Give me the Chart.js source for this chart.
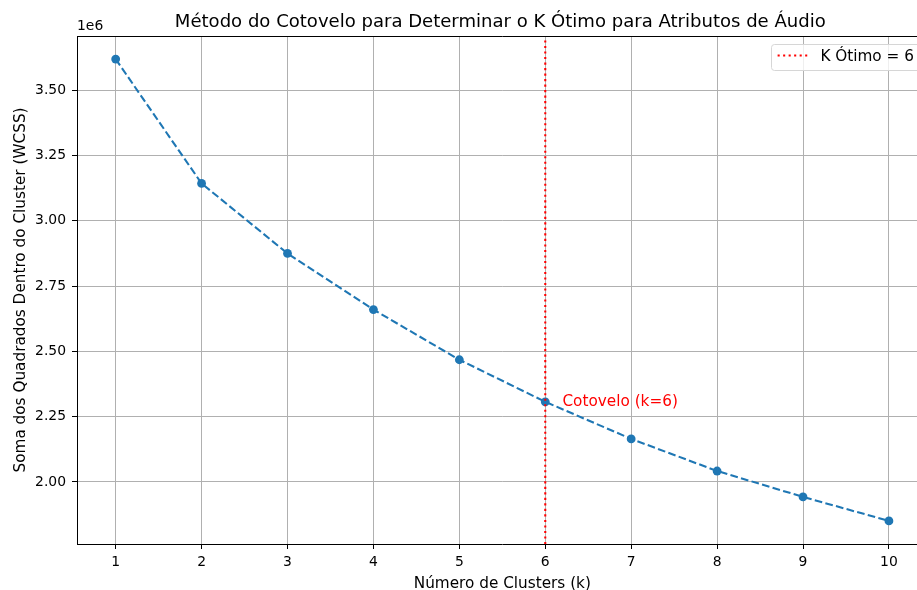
<!DOCTYPE html>
<html>
<head>
<meta charset="utf-8">
<script src="https://cdn.jsdelivr.net/npm/chart.js@4.4.1/dist/chart.umd.min.js"></script>
<style>
  html, body { margin: 0; padding: 0; background: #ffffff; overflow: hidden; width: 917px; height: 590px; }
  #wrap { position: relative; width: 936px; height: 590px; }
  canvas { display: block; }
</style>
</head>
<body>
<div id="wrap"><canvas id="c" width="936" height="590" style="width:936px;height:590px"></canvas></div>
<script>
// ---- data ----
const clusterCounts = [1, 2, 3, 4, 5, 6, 7, 8, 9, 10];
const wcssValues = [3619000, 3143000, 2875000, 2660000, 2468000, 2307000, 2165000, 2042000, 1943000, 1851000];
const xTickValues = [1, 2, 3, 4, 5, 6, 7, 8, 9, 10];
const yTickValues = [2000000, 2250000, 2500000, 2750000, 3000000, 3250000, 3500000];
const optimalK = 6;
const titleText = 'Método do Cotovelo para Determinar o K Ótimo para Atributos de Áudio';
const xLabelText = 'Número de Clusters (k)';
const yLabelText = 'Soma dos Quadrados Dentro do Cluster (WCSS)';
const legendText = 'K Ótimo = ' + optimalK;
const annotationText = 'Cotovelo (k=' + optimalK + ')';
const offsetText = '1e6';

// ---- axis limits (matplotlib-like 5% margins) ----
const xMin = Math.min(...clusterCounts), xMax = Math.max(...clusterCounts);
const xPad = (xMax - xMin) * 0.05;
const yLo = Math.min(...wcssValues), yHi = Math.max(...wcssValues);
const yPad = (yHi - yLo) * 0.05;

const FONT = '"DejaVu Sans", sans-serif';
const BLUE = '#1f77b4';
const TICK_PX = 13.9, LABEL_PX = 15.28, TITLE_PX = 18.06;

const mainData = clusterCounts.map((k, i) => ({ x: k, y: wcssValues[i] }));
const vlineData = [{ x: optimalK, y: yLo - yPad }, { x: optimalK, y: yHi + yPad }];

const decor = {
  id: 'decor',
  afterDraw(chart) {
    const ctx = chart.ctx;
    const a = chart.chartArea;
    const xs = chart.scales.x, ys = chart.scales.y;
    ctx.save();
    // top & right spines
    ctx.strokeStyle = '#000';
    ctx.lineWidth = 1;
    ctx.beginPath();
    ctx.moveTo(a.left, Math.round(a.top) + 0.5);
    ctx.lineTo(a.right, Math.round(a.top) + 0.5);
    ctx.moveTo(Math.round(a.right) + 0.5, a.top);
    ctx.lineTo(Math.round(a.right) + 0.5, a.bottom);
    ctx.stroke();

    ctx.fillStyle = '#000';
    // title
    ctx.font = TITLE_PX + 'px ' + FONT;
    ctx.textAlign = 'center';
    ctx.textBaseline = 'alphabetic';
    ctx.fillText(titleText, (a.left + a.right) / 2 - 2, 27);
    // offset text
    ctx.font = TICK_PX + 'px ' + FONT;
    ctx.textAlign = 'left';
    ctx.fillText(offsetText, a.left, 30);
    // x label
    ctx.font = LABEL_PX + 'px ' + FONT;
    ctx.textAlign = 'center';
    ctx.fillText(xLabelText, (a.left + a.right) / 2, 587.5);
    // y label
    ctx.save();
    ctx.translate(24.5, (a.top + a.bottom) / 2);
    ctx.rotate(-Math.PI / 2);
    ctx.textAlign = 'center';
    ctx.fillText(yLabelText, 0, 0);
    ctx.restore();

    // annotation
    ctx.fillStyle = '#ff0000';
    ctx.textAlign = 'left';
    ctx.textBaseline = 'middle';
    const idx = clusterCounts.indexOf(optimalK);
    ctx.fillText(annotationText, xs.getPixelForValue(optimalK + 0.2), ys.getPixelForValue(wcssValues[idx]));

    // legend (matplotlib style)
    const em = LABEL_PX;
    const tw = ctx.measureText(legendText).width;
    const lw = 0.4 * em * 2 + 2 * em + 0.8 * em + tw;
    const lx = Math.round(a.right - 0.5 * em - lw) + 0.5, ly = 44.5, lh = 26, r = 3;
    ctx.beginPath();
    ctx.moveTo(lx + r, ly);
    ctx.lineTo(lx + lw - r, ly);
    ctx.arcTo(lx + lw, ly, lx + lw, ly + r, r);
    ctx.lineTo(lx + lw, ly + lh - r);
    ctx.arcTo(lx + lw, ly + lh, lx + lw - r, ly + lh, r);
    ctx.lineTo(lx + r, ly + lh);
    ctx.arcTo(lx, ly + lh, lx, ly + lh - r, r);
    ctx.lineTo(lx, ly + r);
    ctx.arcTo(lx, ly, lx + r, ly, r);
    ctx.closePath();
    ctx.fillStyle = 'rgba(255,255,255,0.8)';
    ctx.fill();
    ctx.strokeStyle = '#d6d6d6';
    ctx.lineWidth = 1;
    ctx.stroke();
    const hx = lx + 0.4 * em;
    ctx.strokeStyle = '#ff0000';
    ctx.lineWidth = 2.08;
    ctx.setLineDash([2.08, 3.43]);
    ctx.beginPath();
    ctx.moveTo(hx, 55.5);
    ctx.lineTo(hx + 2 * em, 55.5);
    ctx.stroke();
    ctx.setLineDash([]);
    ctx.fillStyle = '#000';
    ctx.textAlign = 'left';
    ctx.textBaseline = 'middle';
    ctx.fillText(legendText, hx + 2.8 * em, 57);
    ctx.restore();
  }
};

new Chart(document.getElementById('c'), {
  type: 'line',
  data: {
    datasets: [
      {
        label: legendText,
        data: vlineData,
        borderColor: '#ff0000',
        borderWidth: 2.08,
        borderDash: [2.08, 3.43],
        pointRadius: 0,
        fill: false,
        order: 0
      },
      {
        label: 'WCSS',
        data: mainData,
        borderColor: BLUE,
        backgroundColor: BLUE,
        borderWidth: 2.08,
        borderDash: [7.7, 3.3],
        pointRadius: 4.4,
        pointBackgroundColor: BLUE,
        pointBorderWidth: 0,
        fill: false,
        tension: 0,
        order: 1
      }
    ]
  },
  options: {
    responsive: false,
    devicePixelRatio: 1,
    animation: false,
    layout: { padding: { top: 36, left: 0, right: 936 - 927.6, bottom: 0 } },
    plugins: { legend: { display: false }, tooltip: { enabled: false }, title: { display: false } },
    scales: {
      x: {
        type: 'linear',
        min: xMin - xPad,
        max: xMax + xPad,
        afterFit(s) { s.height = 46; },
        afterBuildTicks(s) { s.ticks = xTickValues.map(v => ({ value: v })); },
        ticks: {
          autoSkip: false,
          maxRotation: 0,
          padding: 5,
          color: '#000',
          font: { family: FONT, size: TICK_PX },
          callback: v => String(v)
        },
        grid: { color: '#b0b0b0', lineWidth: 1, drawTicks: true, tickLength: 5, tickColor: '#000', tickWidth: 1 },
        border: { display: true, color: '#000', width: 1 }
      },
      y: {
        type: 'linear',
        min: yLo - yPad,
        max: yHi + yPad,
        afterFit(s) { s.width = 77; },
        afterBuildTicks(s) { s.ticks = yTickValues.map(v => ({ value: v })); },
        ticks: {
          autoSkip: false,
          padding: 6,
          color: '#000',
          font: { family: FONT, size: TICK_PX },
          callback: v => (v / 1e6).toFixed(2)
        },
        grid: { color: '#b0b0b0', lineWidth: 1, drawTicks: true, tickLength: 5, tickColor: '#000', tickWidth: 1 },
        border: { display: true, color: '#000', width: 1 }
      }
    }
  },
  plugins: [decor]
});
</script>
</body>
</html>
